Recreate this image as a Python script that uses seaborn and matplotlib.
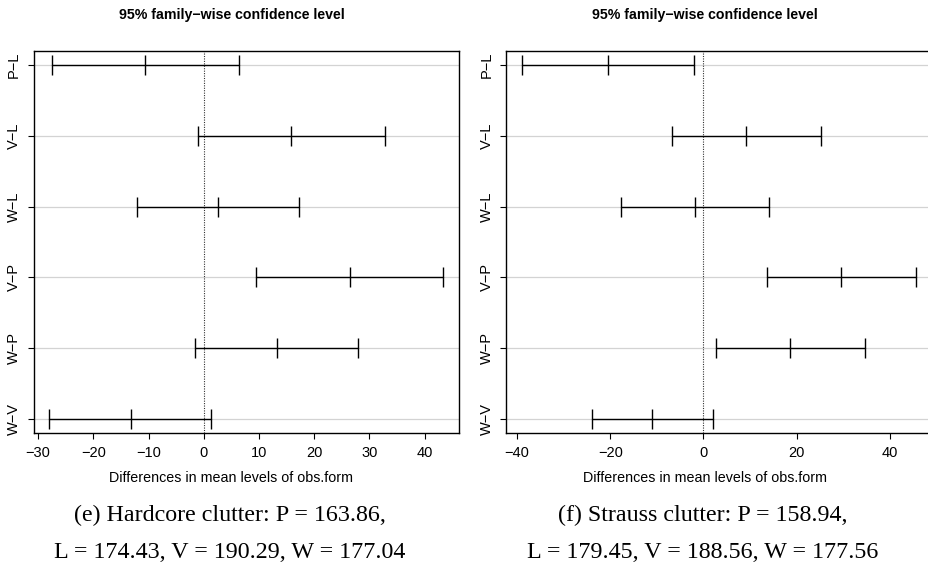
import numpy as np
import pandas as pd
import seaborn as sns
import matplotlib.pyplot as plt

# comparisons, top to bottom
comparisons = ['P\u2212L', 'V\u2212L', 'W\u2212L', 'V\u2212P', 'W\u2212P', 'W\u2212V']

# (e) Hardcore clutter
hard_diff = [-10.57, 15.86, 2.61, 26.43, 13.18, -13.25]
hard_lwr = [-27.5, -1.05, -12.1, 9.5, -1.5, -27.95]
hard_upr = [6.4, 32.9, 17.3, 43.4, 27.9, 1.4]

# (f) Strauss clutter
str_diff = [-20.51, 9.11, -1.89, 29.62, 18.62, -11.0]
str_lwr = [-38.95, -6.8, -17.8, 13.7, 2.6, -24.0]
str_upr = [-2.05, 25.2, 14.1, 45.6, 34.6, 2.1]

hard_ticks = [-30, -20, -10, 0, 10, 20, 30, 40]
str_ticks = [-40, -20, 0, 20, 40]

captions = ['(e) Hardcore clutter: P = 163.86,\nL = 174.43, V = 190.29, W = 177.04',
            '(f) Strauss clutter: P = 158.94,\nL = 179.45, V = 188.56, W = 177.56']

sns.set_theme(style='white')
plt.rcParams['font.family'] = ['Liberation Sans', 'DejaVu Sans']
plt.rcParams['axes.unicode_minus'] = True
for key in ['text.color', 'axes.labelcolor', 'xtick.color', 'ytick.color']:
    plt.rcParams[key] = 'black'


def make_df(diff, lwr, upr):
    n = len(comparisons)
    ypos = list(range(n, 0, -1))
    rows = []
    for i in range(n):
        for v in (lwr[i], diff[i], upr[i]):
            rows.append({'comp': comparisons[i], 'y': ypos[i], 'x': v})
    return pd.DataFrame(rows)


def xlim_r(lwr, upr):
    # R style 4% padding
    lo, hi = min(lwr), max(upr)
    pad = 0.04 * (hi - lo)
    return lo - pad, hi + pad


fig = plt.figure(figsize=(9.29, 5.67), dpi=100)
W, H = 929.0, 567.0

panels = [
    (hard_diff, hard_lwr, hard_upr, hard_ticks, 33.6, 459.2, 231.5, captions[0]),
    (str_diff, str_lwr, str_upr, str_ticks, 506.3, 931.6, 705.0, captions[1]),
]

for diff, lwr, upr, ticks, left_px, right_px, cx, cap in panels:
    x0, x1 = xlim_r(lwr, upr)
    top_px, bot_px = 50.7, 433.3
    ax = fig.add_axes([left_px / W, 1 - bot_px / H,
                       (right_px - left_px) / W, (bot_px - top_px) / H])
    df = make_df(diff, lwr, upr)
    n = len(comparisons)
    for k in range(1, n + 1):
        ax.axhline(k, color='#d3d3d3', lw=0.9, zorder=0)
    ax.axvline(0, color='#333333', lw=0.8, ls=(0, (1, 1.2)), zorder=1)
    sns.lineplot(data=df, x='x', y='y', units='comp', estimator=None,
                 color='black', lw=1.0, marker='|', markersize=14,
                 markeredgewidth=1.0, markeredgecolor='black',
                 ax=ax, legend=False, zorder=3)
    ax.set_xlim(x0, x1)
    ax.set_ylim(0.8, n + 0.2)
    ax.set_xticks(ticks)
    ax.set_xticklabels([f'{t}'.replace('-', '\u2212') for t in ticks])
    ax.set_yticks(list(range(n, 0, -1)))
    ax.set_yticklabels(comparisons, rotation=90, va='center')
    ax.set_xlabel('')
    ax.set_ylabel('')
    ax.tick_params(axis='both', which='major', direction='out', length=4,
                   width=0.8, color='black', labelsize=10.5, bottom=True,
                   left=True)
    ax.tick_params(axis='x', pad=5)
    ax.tick_params(axis='y', pad=5)
    for s in ax.spines.values():
        s.set_color('black')
        s.set_linewidth(1.0)
    fig.text(cx / W, 1 - 15 / H, '95% family\u2212wise confidence level',
             ha='center', va='center', fontsize=10.2, fontweight='bold')
    fig.text(cx / W, 1 - 478.3 / H, 'Differences in mean levels of obs.form',
             ha='center', va='center', fontsize=10.3)
    line1, line2 = cap.split('\n')
    fig.text(cx / W - 2 / W, 1 - 515 / H, line1, ha='center', va='center',
             fontsize=17.3, family=['Liberation Serif', 'DejaVu Serif'])
    fig.text(cx / W - 2 / W, 1 - 553 / H, line2, ha='center', va='center',
             fontsize=17.3, family=['Liberation Serif', 'DejaVu Serif'])

fig.savefig('out.png', dpi=100)
